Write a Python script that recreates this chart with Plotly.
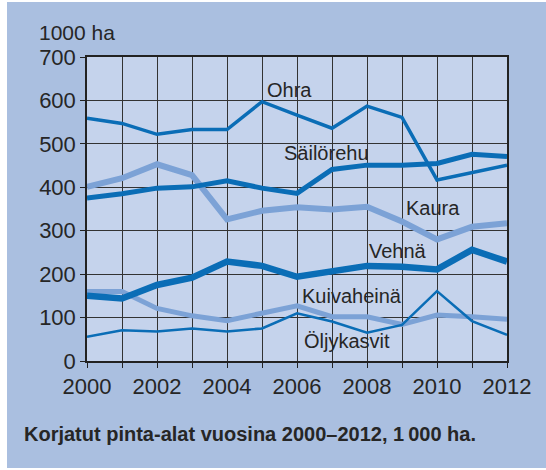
import plotly.graph_objects as go

years = list(range(2000, 2013))
ohra = [559, 547, 522, 533, 533, 597, 566, 536, 587, 561, 417, 434, 451]
sailorehu = [375, 385, 398, 401, 415, 398, 386, 441, 451, 451, 455, 476, 471]
kaura = [401, 421, 453, 428, 326, 346, 354, 349, 355, 321, 280, 309, 317]
vehna = [150, 144, 175, 192, 229, 219, 194, 206, 219, 217, 211, 256, 229]
kuivaheina = [160, 160, 121, 104, 93, 110, 127, 102, 102, 84, 106, 102, 96]
oljykasvit = [56, 71, 68, 75, 68, 75, 110, 91, 65, 83, 161, 92, 60]
x_ticklabels = ["2000", "", "2002", "", "2004", "", "2006", "", "2008", "", "2010", "", "2012"]

DARK = "#0A6DB6"
LIGHT = "#7CA2D6"
TXT = "#262626"
FONT = "Liberation Sans, Arial, sans-serif"

series = [
    ("Kuivaheinä", kuivaheina, LIGHT, 5),
    ("Kaura", kaura, LIGHT, 6),
    ("Öljykasvit", oljykasvit, DARK, 2.5),
    ("Ohra", ohra, DARK, 3.5),
    ("Säilörehu", sailorehu, DARK, 5),
    ("Vehnä", vehna, DARK, 6.5),
]

fig = go.Figure()
for name, vals, col, w in series:
    fig.add_trace(go.Scatter(x=years, y=vals, mode="lines", name=name,
                             line=dict(color=col, width=w), showlegend=False))

W, H = 546, 470
L, R, T, B = 87, 39, 57, 109
pw, ph = W - L - R, H - T - B

def px(x):
    return (x - L) / pw

def py(y):
    return (H - B - y) / ph

axis_common = dict(showgrid=True, gridcolor="#333333", gridwidth=1.3,
                   showline=True, linecolor="#222222", linewidth=1.5, mirror=True,
                   ticks="outside", ticklen=5, tickcolor="#222222", tickwidth=1.3,
                   zeroline=False, tickfont=dict(size=22, family=FONT, color=TXT))

fig.update_layout(
    width=W, height=H,
    margin=dict(l=L, r=R, t=T, b=B),
    paper_bgcolor="white",
    plot_bgcolor="rgba(0,0,0,0)",
    font=dict(family=FONT, color=TXT, size=22),
    shapes=[
        dict(type="rect", xref="paper", yref="paper", x0=px(7), x1=px(546), y0=py(468), y1=py(2),
             fillcolor="#AABFE0", line=dict(width=0), layer="below"),
        dict(type="rect", xref="paper", yref="paper", x0=0, x1=1, y0=0, y1=1,
             fillcolor="#C5D3EC", line=dict(width=0), layer="below"),
    ],
    xaxis=dict(range=[2000, 2012], tickvals=years, ticktext=x_ticklabels, **axis_common),
    yaxis=dict(range=[0, 700], dtick=100, tick0=0, **axis_common),
)

labels = [
    ("Ohra", 2005.09, 624),
    ("Säilörehu", 2005.57, 480),
    ("Kaura", 2009.06, 352),
    ("Vehnä", 2008.0, 254),
    ("Kuivaheinä", 2006.09, 150),
    ("Öljykasvit", 2006.14, 46),
]
for text, x, y in labels:
    fig.add_annotation(x=x, y=y, xref="x", yref="y", text=text, showarrow=False,
                       xanchor="left", yanchor="middle",
                       font=dict(size=20, family=FONT, color=TXT))

fig.add_annotation(x=px(37), y=py(33), xref="paper", yref="paper", text="1000 ha",
                   showarrow=False, xanchor="left", yanchor="middle",
                   font=dict(size=21, family=FONT, color=TXT))
fig.add_annotation(x=px(22), y=py(434), xref="paper", yref="paper",
                   text="<b>Korjatut pinta-alat vuosina 2000–2012, 1\u2009000 ha.</b>",
                   showarrow=False, xanchor="left", yanchor="middle",
                   font=dict(size=20, family=FONT, color=TXT))

fig.write_html("out.html", config={"displayModeBar": False},
               post_script="document.body.style.margin='0';document.body.style.overflow='hidden';")
